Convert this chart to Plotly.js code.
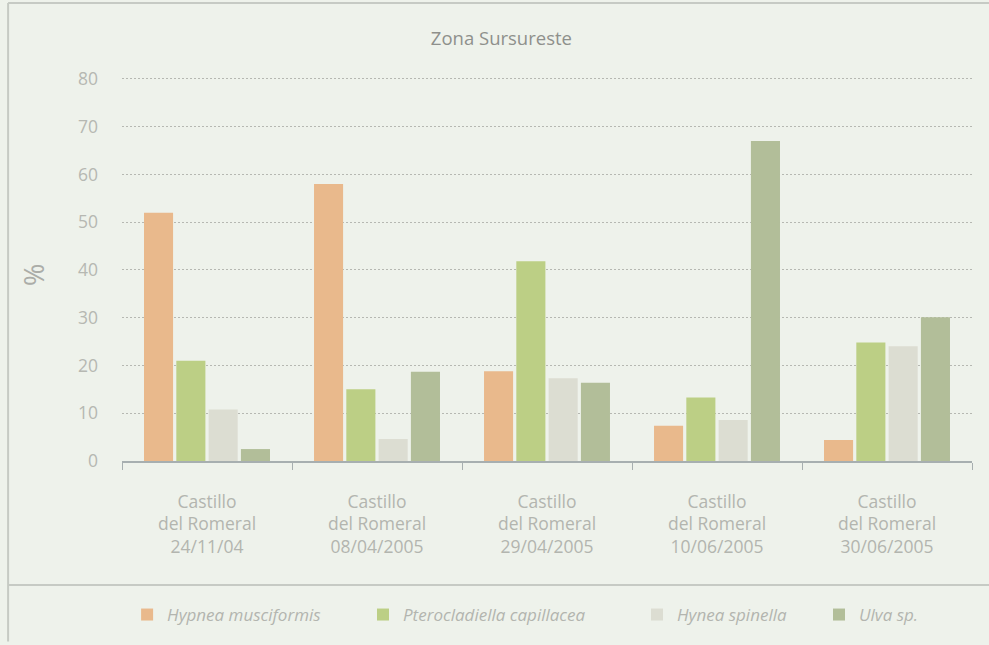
<!DOCTYPE html>
<html>
<head>
<meta charset="utf-8">
<script src="https://cdn.plot.ly/plotly-3.0.1.min.js"></script>
<style>
html,body{margin:0;padding:0;background:#EEF2EB;}
#chart{width:989px;height:645px;}
</style>
</head>
<body>
<div id="chart"></div>
<script>
const categories = [
  "Castillo<br>del Romeral<br>24/11/04",
  "Castillo<br>del Romeral<br>08/04/2005",
  "Castillo<br>del Romeral<br>29/04/2005",
  "Castillo<br>del Romeral<br>10/06/2005",
  "Castillo<br>del Romeral<br>30/06/2005"
];
const seriesNames = ["Hypnea musciformis", "Pterocladiella capillacea", "Hynea spinella", "Ulva sp."];
const hypnea = [52, 58, 18.8, 7.4, 4.4];
const pterocladiella = [21, 15, 41.8, 13.3, 24.8];
const hyneaSpinella = [10.8, 4.6, 17.3, 8.6, 24];
const ulva = [2.5, 18.7, 16.4, 67, 30.1];
const yTicks = [0, 10, 20, 30, 40, 50, 60, 70, 80];

const colors = ["#E9B98C", "#BCCF85", "#DCDDD2", "#B2BE99"];
const values = [hypnea, pterocladiella, hyneaSpinella, ulva];
const legendIds = ["legend", "legend2", "legend3", "legend4"];
const legendX = [0.006, 0.2835, 0.6059, 0.82];

const traces = values.map((v, i) => ({
  type: "bar",
  name: "<i>" + seriesNames[i] + "</i>",
  x: categories,
  y: v,
  marker: {color: colors[i]},
  legend: legendIds[i],
  hoverinfo: "skip"
}));

const font = "'Open Sans', Lato, sans-serif";
const grey = "#B3B5AF";

const layout = {
  width: 989, height: 645,
  paper_bgcolor: "#EEF2EB",
  plot_bgcolor: "#EEF2EB",
  margin: {l: 122, r: 17, t: 77, b: 182},
  barmode: "group",
  bargap: 0.24,
  bargroupgap: 0.1,
  showlegend: true,
  title: {
    text: "Zona Sursureste",
    x: 0.507, xanchor: "center",
    y: 0.941, yanchor: "middle",
    font: {family: font, size: 18.5, color: "#8E908C"}
  },
  xaxis: {
    type: "category",
    showgrid: false,
    showline: true, linecolor: "#A7AFB0", linewidth: 1.5,
    ticks: "outside", tickson: "boundaries", ticklen: 7, tickcolor: "#A7AFB0",
    tickfont: {family: font, size: 17.5, color: grey},
    ticklabelstandoff: 24,
    zeroline: false
  },
  yaxis: {
    range: [0, 80.4],
    tickvals: yTicks,
    showgrid: true, gridcolor: "#B6B8B2", griddash: "2px,2px", gridwidth: 1,
    showline: false, zeroline: false, ticks: "",
    tickfont: {family: font, size: 17.5, color: "#B6B8B2"},
    ticklabelstandoff: 23
  },
  annotations: [{
    text: "%", xref: "paper", yref: "paper",
    x: -0.105, y: 0.484, xanchor: "center", yanchor: "middle",
    textangle: -90, showarrow: false,
    font: {family: font, size: 27, color: "#ABADA8"}
  }],
  shapes: [
    {type: "line", xref: "paper", yref: "paper", x0: -0.134, x1: 1.03, y0: 1.193, y1: 1.193, line: {color: "#C6CAC4", width: 2}},
    {type: "line", xref: "paper", yref: "paper", x0: -0.134, x1: -0.134, y0: 1.193, y1: -0.47, line: {color: "#C6CAC4", width: 2}},
    {type: "line", xref: "paper", yref: "paper", x0: -0.134, x1: 1.03, y0: -0.323, y1: -0.323, line: {color: "#C6CAC4", width: 2}}
  ]
};

legendIds.forEach((id, i) => {
  layout[id] = {
    orientation: "h",
    x: legendX[i], xanchor: "left",
    y: -0.401, yanchor: "middle",
    font: {family: font, size: 17, color: "#B3B5AF"},
    bgcolor: "rgba(0,0,0,0)"
  };
});

Plotly.newPlot("chart", traces, layout, {displayModeBar: false, staticPlot: true});
</script>
</body>
</html>
